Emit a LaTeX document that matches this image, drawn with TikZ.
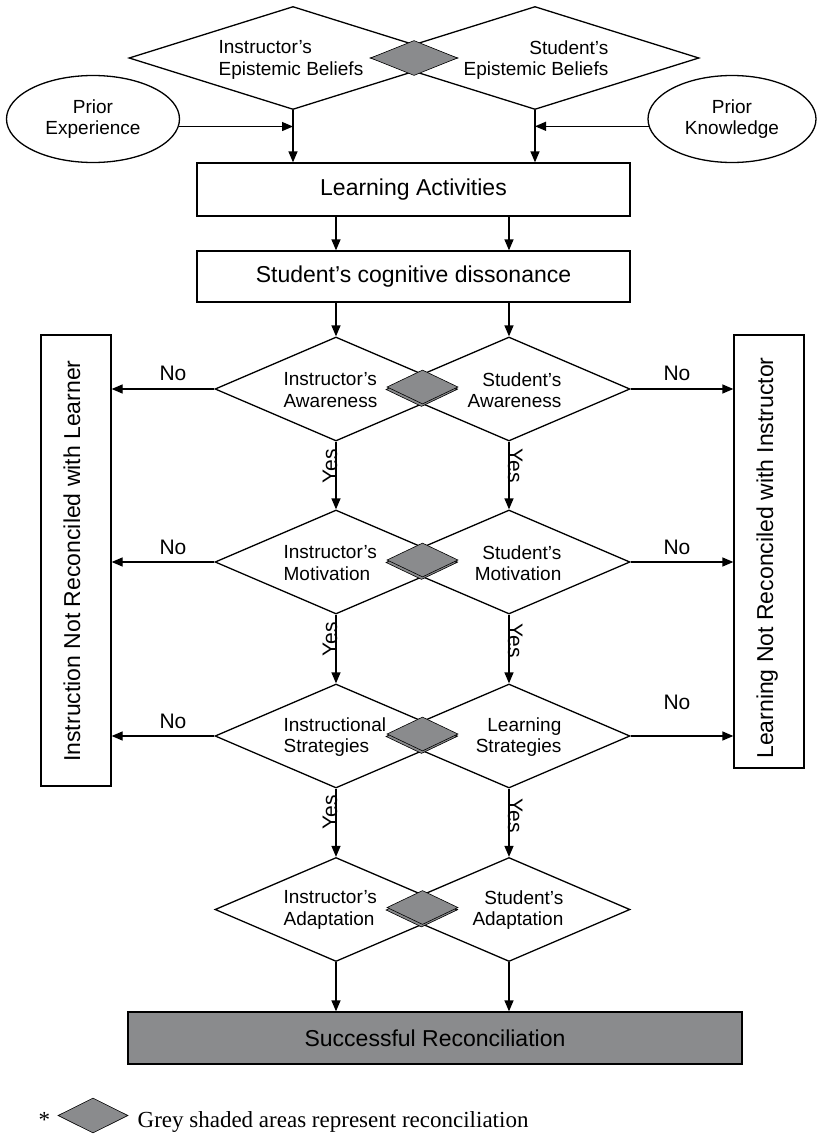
\documentclass[tikz,border=0pt]{standalone}
\usepackage{fontspec}
\setmainfont{Liberation Sans}
\newfontfamily\serifleg{Liberation Serif}
\usetikzlibrary{shapes.geometric,arrows.meta}
\definecolor{gfill}{HTML}{8A8B8D}
\begin{document}
\begin{tikzpicture}[x=1pt,y=-1pt, line width=1.3pt,
 box/.style={draw, rectangle, inner sep=0pt},
 dia/.style={draw, diamond, inner sep=0pt, minimum width=242pt, minimum height=104pt},
 ell/.style={draw, ellipse, inner sep=0pt, align=center, font=\fontsize{19}{20.5}\selectfont},
 dtxt/.style={inner sep=0pt, font=\fontsize{19}{21.5}\selectfont},
 btxt/.style={font=\fontsize{23}{26}\selectfont},
 arr/.style={-{Triangle[length=11pt,width=9pt]}},
 gdia/.style={diamond, draw=black, line width=0.6pt, fill=gfill, inner sep=0pt, minimum width=71pt, minimum height=34pt},
 nolab/.style={inner sep=0pt, font=\fontsize{21}{24}\selectfont},
 yeslab/.style={inner sep=0pt, anchor=base, font=\fontsize{21}{24}\selectfont},
 sidetxt/.style={inner sep=0pt, anchor=base, rotate=90, font=\fontsize{23}{26}\selectfont},
 legtxt/.style={inner sep=0pt, anchor=base west, font=\serifleg\fontsize{23}{26}\selectfont}]
\fill[white] (0,0) rectangle (817,1135);
\useasboundingbox (0,0) rectangle (817,1135);

% top diamonds
\node[dia, minimum width=328pt, minimum height=103pt] (ebL) at (293,58) {};
\node[dia, minimum width=328pt, minimum height=103pt] (ebR) at (535,58) {};
\node[gdia, minimum width=87pt, minimum height=35pt] (gEB) at (414,58) {};
\node[dtxt, align=left, anchor=west] (tebL) at (218,60) {Instructor’s\\Epistemic Beliefs};
\node[dtxt, align=right, anchor=east] (tebR) at (609,60) {Student’s\\Epistemic Beliefs};

% ellipses
\node[ell, minimum width=173pt, minimum height=87pt] (pe) at (93,119) {Prior\\Experience};
\node[ell, minimum width=168pt, minimum height=87pt] (pk) at (732,119) {Prior\\Knowledge};
\draw[arr] (pe.-5.4) -- (pe.-5.4 -| ebL.south);
\draw[arr] (pk.185.5) -- (pk.185.5 -| ebR.south);

% boxes
\node[box, btxt, minimum width=433pt, minimum height=53pt] (la) at (413.5,189.5) {Learning Activities};
\node[box, btxt, minimum width=433pt, minimum height=51pt] (ds) at (413.5,276.5) {Student’s cognitive dissonance};
\draw[arr] (ebL.south) -- (ebL.south |- la.north);
\draw[arr] (ebR.south) -- (ebR.south |- la.north);

% rows of diamonds
\node[dia] (awL) at (336,389) {};
\node[dia] (awR) at (509,389) {};
\node[dia] (moL) at (336,562) {};
\node[dia] (moR) at (509,562) {};
\node[dia] (stL) at (336,736) {};
\node[dia] (stR) at (509,736) {};
\node[dia] (adL) at (336,909.5) {};
\node[dia] (adR) at (509,909.5) {};

\draw[arr] (la.south -| awL.north) -- (ds.north -| awL.north);
\draw[arr] (la.south -| awR.north) -- (ds.north -| awR.north);
\draw[arr] (ds.south -| awL.north) -- (awL.north);
\draw[arr] (ds.south -| awR.north) -- (awR.north);

% grey overlaps
\node[gdia] (gaw0) at (421.5,389.5) {};
\node[gdia] (gaw) at (422.5,387) {};
\node[gdia] (gmo0) at (421.5,562.5) {};
\node[gdia] (gmo) at (422.5,560) {};
\node[gdia] (gst0) at (421.5,736.5) {};
\node[gdia] (gst) at (422.5,734) {};
\node[gdia] (gad0) at (421.5,910) {};
\node[gdia] (gad) at (422.5,907.5) {};

% diamond texts
\node[dtxt, align=left, anchor=west] (tawL) at (283,390) {Instructor’s\\Awareness};
\node[dtxt, align=right, anchor=east] (tawR) at (562,390) {Student’s\\Awareness};
\node[dtxt, align=left, anchor=west] (tmoL) at (283,563) {Instructor’s\\Motivation};
\node[dtxt, align=right, anchor=east] (tmoR) at (562,563) {Student’s\\Motivation};
\node[dtxt, align=left, anchor=west] (tstL) at (283,737) {Instructional\\Strategies};
\node[dtxt, align=right, anchor=east] (tstR) at (562,737) {Learning\\Strategies};
\node[dtxt, align=left, anchor=west] (tadL) at (283,910) {Instructor’s\\Adaptation};
\node[dtxt, align=right, anchor=east] (tadR) at (564,910) {Student’s\\Adaptation};

% side boxes
\node[box, minimum width=70pt, minimum height=451pt] (nl) at (76,560.5) {};
\node[box, minimum width=70pt, minimum height=433pt] (nr) at (769,551.5) {};
\node[sidetxt] (nlt) at (80,561) {Instruction Not Reconciled with Learner};
\node[sidetxt] (nrt) at (773,558) {Learning Not Reconciled with Instructor};

% No arrows
\draw[arr] (awL.west) -- (awL.west -| nl.east);
\draw[arr] (moL.west) -- (moL.west -| nl.east);
\draw[arr] (stL.west) -- (stL.west -| nl.east);
\draw[arr] (awR.east) -- (awR.east -| nr.west);
\draw[arr] (moR.east) -- (moR.east -| nr.west);
\draw[arr] (stR.east) -- (stR.east -| nr.west);
\node[nolab] (no1) at (173,373) {No};
\node[nolab] (no2) at (173,547) {No};
\node[nolab] (no3) at (173,721) {No};
\node[nolab] (no4) at (677,373) {No};
\node[nolab] (no5) at (677,547) {No};
\node[nolab] (no6) at (677,702) {No};

% Yes arrows
\draw[arr] (awL.south) -- (moL.north);
\draw[arr] (awR.south) -- (moR.north);
\draw[arr] (moL.south) -- (stL.north);
\draw[arr] (moR.south) -- (stR.north);
\draw[arr] (stL.south) -- (adL.north);
\draw[arr] (stR.south) -- (adR.north);
\node[yeslab, rotate=90] (y1) at (337,466) {Yes};
\node[yeslab, rotate=-90] (y2) at (508,466) {Yes};
\node[yeslab, rotate=90] (y3) at (337,639) {Yes};
\node[yeslab, rotate=-90] (y4) at (508,641) {Yes};
\node[yeslab, rotate=90] (y5) at (337,812) {Yes};
\node[yeslab, rotate=-90] (y6) at (508,816) {Yes};

% final
\node[box, btxt, fill=gfill, minimum width=614pt, minimum height=52pt] (sr) at (435,1038) {Successful Reconciliation};
\draw[arr] (adL.south) -- (adL.south |- sr.north);
\draw[arr] (adR.south) -- (adR.south |- sr.north);

% legend
\node[legtxt] (star) at (38,1127) {*};
\node[gdia, minimum width=70pt, minimum height=35pt] (legd) at (93,1115.5) {};
\node[legtxt] (legt) at (137,1127) {Grey shaded areas represent reconciliation};
\end{tikzpicture}
\end{document}
